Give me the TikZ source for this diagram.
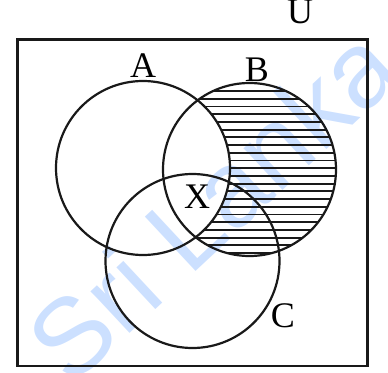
\documentclass[tikz,border=0pt]{standalone}
\usepackage{fontspec}
\setmainfont{Liberation Serif}
\newfontfamily\wmfont{Liberation Sans}
\definecolor{wmblue}{RGB}{204,224,255}
\begin{document}
\begin{tikzpicture}[x=1pt,y=-1pt,
  setcircle/.style={line width=2.2pt,draw=black!90},
  lbl/.style={inner sep=0pt,font=\fontsize{36}{40}\selectfont},
  hatchline/.style={line width=1.9pt,draw=black!90}]
\useasboundingbox (0,0) rectangle (388,372);
% watermark
\node[text=wmblue,rotate=43,inner sep=0pt,font=\wmfont\fontsize{108}{114}\selectfont] (wm) at (212,204) {Sri Lanka};
% universal set
\draw[line width=2.7pt,draw=black!90] (17.7,39.3) rectangle (367.7,366);
\coordinate (cA) at (143,168);
\coordinate (cB) at (249.5,169.5);
\coordinate (cC) at (192.5,261);
% hatching B \ A
\begin{scope}[even odd rule]
  \clip (cB) circle (86.5);
  \clip (0,0) rectangle (388,372) (cA) circle (87);
  \foreach \k in {0,...,23}{
    \draw[hatchline] (150,{83.3+7.72*\k}) -- (345,{83.3+7.72*\k});
  }
\end{scope}
\draw[setcircle] (cA) circle (87);
\draw[setcircle] (cB) circle (86.5);
\draw[setcircle] (cC) circle (87);
\node[lbl] (U) at (300,12) {U};
\node[lbl] (A) at (143,66) {A};
\node[lbl] (B) at (257,70) {B};
\node[lbl] (X) at (197,197) {X};
\node[lbl] (C) at (283,316) {C};
\end{tikzpicture}
\end{document}
